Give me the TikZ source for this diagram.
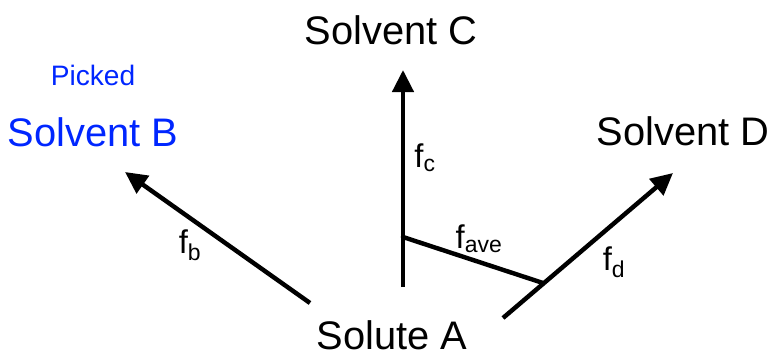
\documentclass[tikz,border=0pt]{standalone}
\usepackage{fontspec}
\setmainfont{Liberation Sans}
\usetikzlibrary{arrows.meta}

\begin{document}
\begin{tikzpicture}[
    x=0.03cm, y=-0.03cm,
    >={Triangle[length=6.6mm,width=6.3mm]},
    every node/.style={inner sep=0pt},
    solvent/.style={font=\fontsize{34}{40}\selectfont, text=black},
    picked/.style ={solvent, text=blue!85!cyan},
    note/.style   ={font=\fontsize{24}{28}\selectfont, text=blue!85!cyan},
    flux/.style   ={font=\fontsize{28}{32}\selectfont},
    arrow/.style  ={->, draw=black, line width=3.8pt},
    link/.style   ={draw=black, line width=3.8pt},
  ]
  \useasboundingbox (0,0) rectangle (773,356);

  %% --- labels --------------------------------------------------------
  \node[solvent] (solC)   at (391,30)  {Solvent C};
  \node[picked]  (solB)   at (93,132)  {Solvent B};
  \node[note]    (pick)   at (93,75)   {Picked};
  \node[solvent] (solD)   at (683,131) {Solvent D};
  \node[solvent] (solA)   at (392,335) {Solute A};

  %% --- vector end points -------------------------------------------
  \coordinate (tailB) at (310,303);
  \coordinate (tipB)  at (125,172);
  \coordinate (tailC) at (403,287);
  \coordinate (tipC)  at (403,70);
  \coordinate (tailD) at (503,318);
  \coordinate (tipD)  at (673,173);
  \coordinate (aveC)  at (403,237);
  \coordinate (aveD)  at (543,283);

  %% --- vectors -------------------------------------------------------
  \draw[arrow] (tailB) -- (tipB);
  \draw[arrow] (tailC) -- (tipC);
  \draw[arrow] (tailD) -- (tipD);
  \draw[link, line cap=round] (aveC) -- (aveD);

  %% --- force labels --------------------------------------------------
  \node[flux] (fb)   at (190,245) {f\textsubscript{b}};
  \node[flux] (fc)   at (425,158) {f\textsubscript{c}};
  \node[flux] (fave) at (479,239) {f\textsubscript{ave}};
  \node[flux] (fd)   at (614,262) {f\textsubscript{d}};

\end{tikzpicture}
\end{document}
